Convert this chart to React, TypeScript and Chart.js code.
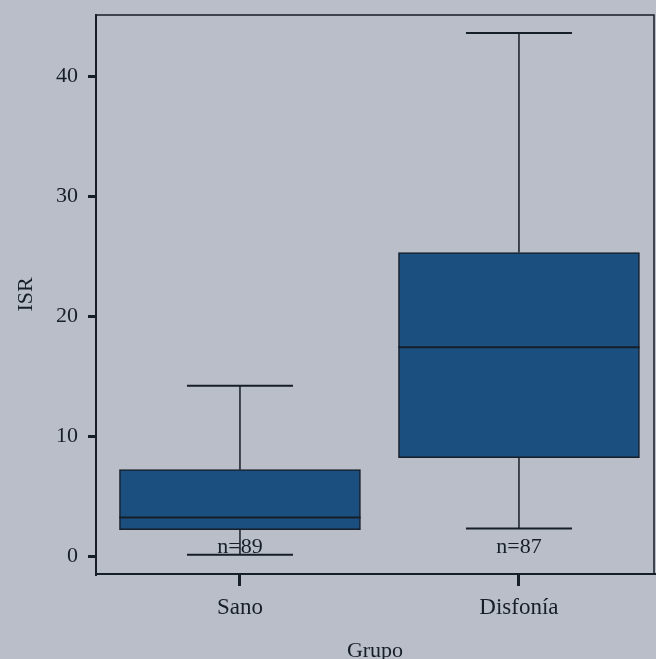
import React, { useEffect, useRef } from "react";
import { Chart, registerables } from "chart.js";

Chart.register(...registerables);

const categories = ["Sano", "Disfonía"];
const categoryPositions = [1, 2];
const whiskerLow = [0.1, 2.3];
const q1 = [2.2, 8.2];
const medians = [3.2, 17.4];
const q3 = [7.2, 25.3];
const whiskerHigh = [14.2, 43.6];
const sampleLabels = ["n=89", "n=87"];
const yTicks = [0, 10, 20, 30, 40];

const BG = "#babec8";
const INK = "#161e28";
const BOX = "#1b4f80";
const FONT = "'Liberation Serif', 'DejaVu Serif', serif";

const boxPlugin = {
  id: "boxExtras",
  beforeDatasetsDraw(chart: any) {
    const { ctx, scales, chartArea } = chart;
    const xs = scales.x;
    const ys = scales.y;
    ctx.save();
    ctx.strokeStyle = INK;
    ctx.lineWidth = 1.5;
    ctx.beginPath();
    ctx.moveTo(chartArea.left, chartArea.top);
    ctx.lineTo(chartArea.right, chartArea.top);
    ctx.lineTo(chartArea.right, chartArea.bottom);
    ctx.stroke();
    const capHalf = 0.19;
    categoryPositions.forEach((p, i) => {
      const cx = xs.getPixelForValue(p);
      const yl = ys.getPixelForValue(whiskerLow[i]);
      const yh = ys.getPixelForValue(whiskerHigh[i]);
      const y1 = ys.getPixelForValue(q1[i]);
      const y3 = ys.getPixelForValue(q3[i]);
      ctx.lineWidth = 1.5;
      ctx.beginPath();
      ctx.moveTo(cx, yh);
      ctx.lineTo(cx, y3);
      ctx.moveTo(cx, y1);
      ctx.lineTo(cx, yl);
      ctx.stroke();
      ctx.lineWidth = 2;
      ctx.beginPath();
      ctx.moveTo(xs.getPixelForValue(p - capHalf), yh);
      ctx.lineTo(xs.getPixelForValue(p + capHalf), yh);
      ctx.moveTo(xs.getPixelForValue(p - capHalf), yl);
      ctx.lineTo(xs.getPixelForValue(p + capHalf), yl);
      ctx.stroke();
    });
    ctx.restore();
  },
  afterDatasetsDraw(chart: any) {
    const { ctx, scales, chartArea } = chart;
    const xs = scales.x;
    const ys = scales.y;
    ctx.save();
    ctx.strokeStyle = INK;
    ctx.lineWidth = 2;
    const half = 0.432;
    categoryPositions.forEach((p, i) => {
      const ym = ys.getPixelForValue(medians[i]);
      ctx.beginPath();
      ctx.moveTo(xs.getPixelForValue(p - half), ym);
      ctx.lineTo(xs.getPixelForValue(p + half), ym);
      ctx.stroke();
      ctx.fillStyle = INK;
      ctx.font = `22px ${FONT}`;
      ctx.textAlign = "center";
      ctx.textBaseline = "middle";
      ctx.fillText(sampleLabels[i], xs.getPixelForValue(p), chartArea.bottom - 27);
    });
    ctx.restore();
  },
};

export default function App() {
  const ref = useRef<HTMLCanvasElement>(null);
  useEffect(() => {
    if (!ref.current) return;
    Chart.defaults.font.family = FONT;
    Chart.defaults.color = INK;
    const chart = new Chart(ref.current, {
      type: "bar",
      data: {
        datasets: [
          {
            data: categoryPositions.map((p, i) => ({ x: p, y: [q1[i], q3[i]] })) as any,
            backgroundColor: BOX,
            borderColor: INK,
            borderWidth: 1.5,
            borderSkipped: false,
            barThickness: 241,
          },
        ],
      },
      options: {
        animation: false,
        responsive: false,
        events: [],
        layout: { padding: { top: 15, right: 2, left: 0, bottom: 0 } },
        plugins: { legend: { display: false }, tooltip: { enabled: false } },
        scales: {
          x: {
            type: "linear",
            offset: false,
            min: 0.484,
            max: 2.484,
            afterBuildTicks: (axis: any) => {
              axis.ticks = categoryPositions.map((v) => ({ value: v }));
            },
            afterFit: (axis: any) => {
              axis.height = 85;
              axis.paddingLeft = 0;
              axis.paddingRight = 0;
            },
            ticks: {
              callback: (v: any) => categories[categoryPositions.indexOf(Number(v))] ?? "",
              font: { size: 23 },
              color: INK,
              padding: 8,
              maxRotation: 0,
            },
            grid: { offset: false, drawOnChartArea: false, drawTicks: true, tickLength: 12, color: INK, lineWidth: 3 },
            border: { display: true, color: INK, width: 2 },
            title: { display: true, text: "Grupo", font: { size: 22, lineHeight: 1 }, color: INK, padding: { top: 0, bottom: -3 } },
          },
          y: {
            type: "linear",
            min: -1.5,
            max: 45.1,
            afterBuildTicks: (axis: any) => {
              axis.ticks = yTicks.map((v) => ({ value: v }));
            },
            afterFit: (axis: any) => {
              axis.width = 96;
              axis.paddingTop = 0;
              axis.paddingBottom = 0;
            },
            ticks: { font: { size: 22 }, color: INK, padding: 10 },
            grid: { drawOnChartArea: false, drawTicks: true, tickLength: 8, color: INK, lineWidth: 3 },
            border: { display: true, color: INK, width: 2 },
            title: { display: true, text: "ISR", font: { size: 22, lineHeight: 1.2 }, color: INK, padding: { top: 13, bottom: 0 } },
          },
        },
      },
      plugins: [boxPlugin],
    });
    return () => chart.destroy();
  }, []);
  return (
    <div style={{ position: "absolute", left: 0, top: 0, width: 656, height: 659, background: BG }}>
      <canvas ref={ref} width={656} height={659} style={{ display: "block" }} />
    </div>
  );
}
